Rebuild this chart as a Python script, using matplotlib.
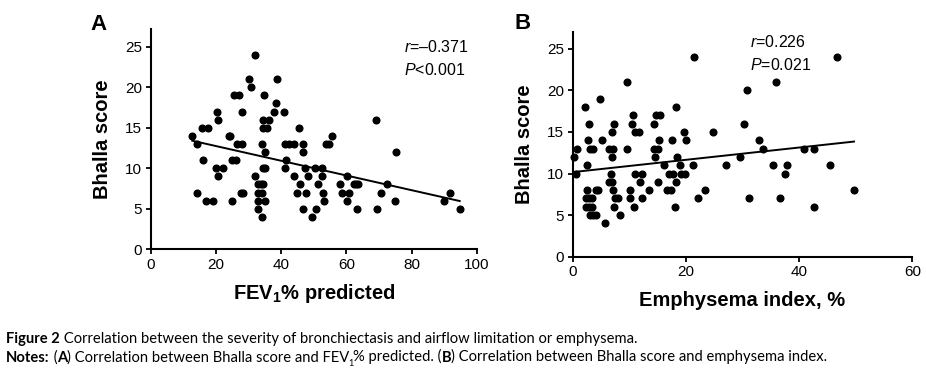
#!/usr/bin/env python3
"""Bhalla score vs FEV1 % predicted (A) and vs emphysema index (B)."""
import numpy as np
import matplotlib
matplotlib.use("Agg")
import matplotlib.pyplot as plt

plt.rcParams["font.family"] = ["Liberation Sans", "DejaVu Sans"]
plt.rcParams["mathtext.fontset"] = "custom"
plt.rcParams["mathtext.rm"] = "Liberation Sans"
plt.rcParams["mathtext.it"] = "Liberation Sans:italic"
plt.rcParams["mathtext.bf"] = "Liberation Sans:bold"

# ---- data -----------------------------------------------------------------
fev1_pct = [12.8, 14.3, 15.8, 17.6, 16.0, 14.3, 16.9, 19.0, 20.4, 20.6,
            20.1, 22.1, 20.6, 24.0, 24.5, 25.0, 26.2, 25.1, 25.7, 27.2,
            26.5, 27.9, 28.0, 27.7, 28.3, 30.1, 30.9, 31.9, 32.1, 32.9,
            33.9, 34.4, 32.9, 34.2, 32.9, 35.2, 32.9, 34.2, 34.2, 35.0,
            34.4, 35.2, 34.9, 34.6, 36.2, 34.6, 35.7, 37.9, 38.5, 38.6,
            40.9, 41.2, 42.3, 44.1, 41.5, 41.2, 43.8, 45.6, 45.8, 45.0,
            46.8, 46.8, 47.3, 48.3, 47.7, 46.6, 49.6, 50.5, 51.2, 50.8,
            52.4, 52.4, 52.8, 53.1, 53.8, 54.8, 55.7, 57.9, 58.5, 60.2,
            60.7, 60.2, 62.2, 63.0, 63.7, 63.2, 69.2, 69.3, 70.5, 72.4,
            74.9, 75.2, 89.8, 91.8, 94.7]
bhalla_a = [14, 13, 15, 15, 11, 7, 6, 6, 17, 16,
            10, 10, 9, 14, 14, 11, 11, 6, 19, 19,
            13, 13, 17, 7, 7, 21, 20, 24, 9, 8,
            8, 8, 7, 7, 6, 6, 5, 4, 13, 12,
            10, 10, 19, 16, 16, 15, 15, 17, 18, 21,
            17, 13, 13, 13, 11, 10, 9, 15, 8, 7,
            13, 12, 10, 9, 7, 5, 4, 10, 8, 5,
            10, 9, 7, 6, 13, 13, 14, 8, 7, 9,
            7, 6, 8, 8, 8, 5, 16, 5, 7, 8,
            6, 12, 6, 7, 5]

emph_index = [0.2, 0.7, 0.5, 2.1, 2.5, 2.8, 2.7, 3.1, 3.6, 2.5,
              2.4, 2.8, 3.4, 2.4, 2.9, 3.4, 3.1, 3.6, 4.2, 4.1,
              4.5, 4.9, 5.1, 5.7, 6.4, 7.2, 7.0, 7.0, 7.3, 6.7,
              6.4, 7.0, 7.2, 7.5, 8.0, 7.3, 8.3, 9.6, 9.6, 10.2,
              10.1, 10.9, 10.7, 10.5, 11.0, 11.7, 11.0, 12.3, 11.9, 12.3,
              13.4, 14.3, 14.8, 15.4, 14.4, 15.0, 14.6, 15.3, 15.0, 16.2,
              16.6, 17.3, 17.0, 17.8, 17.5, 18.1, 18.3, 18.5, 18.2, 19.0,
              19.2, 19.9, 19.7, 20.0, 21.2, 21.5, 22.2, 23.3, 24.7, 27.0,
              29.5, 30.2, 30.8, 31.2, 32.9, 33.7, 35.4, 35.9, 36.7, 37.5,
              37.8, 40.9, 42.7, 42.7, 45.5, 46.7, 49.7]
bhalla_b = [12, 13, 10, 18, 11, 16, 14, 13, 13, 8,
            7, 7, 7, 6, 6, 6, 5, 5, 5, 8,
            8, 19, 14, 4, 13, 13, 12, 15, 16, 10,
            9, 9, 8, 7, 7, 6, 5, 21, 13, 8,
            7, 6, 17, 16, 15, 15, 10, 10, 9, 7,
            8, 16, 17, 17, 13, 13, 12, 14, 9, 11,
            8, 8, 10, 10, 14, 6, 18, 12, 9, 11,
            10, 10, 15, 14, 11, 24, 7, 8, 15, 11,
            12, 16, 20, 7, 14, 13, 11, 21, 7, 10,
            11, 13, 13, 6, 11, 24, 8]

stats_a = ["$\\mathit{r}$=\u20130.371", "$\\mathit{P}$<0.001"]
stats_b = ["$\\mathit{r}$=0.226", "$\\mathit{P}$=0.021"]

caption_1 = [("Figure 2", "bold", False),
             (" Correlation between the severity of bronchiectasis and "
              "airflow limitation or emphysema.", "normal", False)]
caption_2 = [("Notes:", "bold", False), (" (", "normal", False),
             ("A", "bold", False),
             (") Correlation between Bhalla score and FEV", "normal", False),
             ("1", "normal", True), ("% predicted. (", "normal", False),
             ("B", "bold", False),
             (") Correlation between Bhalla score and emphysema index.",
              "normal", False)]

W, H = 926, 369
CAP_FONT = ["Lato", "DejaVu Sans"]


def fx(x):
    return x / W


def fy(y):
    return 1 - y / H


def scatter_panel(ax, x, y, xmax, ytop, xticks):
    x = np.asarray(x, float)
    y = np.asarray(y, float)
    ax.plot(x, y, "o", color="black", markersize=4.8, clip_on=False, zorder=3)
    slope, icpt = np.polyfit(x, y, 1)
    xs = np.array([x.min(), x.max()])
    ax.plot(xs, slope * xs + icpt, color="black", lw=1.4, zorder=2)
    ax.set_xlim(0, xmax)
    ax.set_ylim(0, ytop)
    ax.set_xticks(xticks)
    ax.set_yticks([0, 5, 10, 15, 20, 25])
    for s in ("top", "right"):
        ax.spines[s].set_visible(False)
    for s in ("left", "bottom"):
        ax.spines[s].set_linewidth(1.5)
    ax.tick_params(direction="out", length=3.8, width=1.3, labelsize=11,
                   pad=2.5, colors="black")
    ax.set_ylabel("Bhalla score", fontsize=14.5, fontweight="bold", labelpad=9)


def rich_line(ax, x, y, pieces, size):
    text, weight, _ = pieces[0]
    t = ax.text(x, y, text, transform=ax.figure.transFigure, fontsize=size,
                fontweight=weight, family=CAP_FONT, va="baseline")
    main = prev = t
    for text, weight, sub in pieces[1:]:
        if sub:
            a = ax.annotate(text, xy=(1, 0), xycoords=prev, xytext=(-1.2, -2.5),
                            textcoords="offset points", va="bottom",
                            fontsize=size * 0.62, fontweight=weight,
                            family=CAP_FONT)
        else:
            a = ax.annotate(text, xy=(1, 0), xycoords=(prev, main),
                            va="bottom", fontsize=size, fontweight=weight,
                            family=CAP_FONT)
            main = a
        prev = a


fig = plt.figure(figsize=(W / 100, H / 100), dpi=100)

# Panel A
ax_a = fig.add_axes([fx(150.5), fy(249.3), fx(477 - 150.5), (249.3 - 29) / H])
scatter_panel(ax_a, fev1_pct, bhalla_a, 100, 220.3 / 8.104,
              [0, 20, 40, 60, 80, 100])
ax_a.set_xlabel("FEV$_{\\mathbf{1}}$% predicted", fontsize=14.5,
                fontweight="bold", labelpad=7)

# Panel B
ax_b = fig.add_axes([fx(572.7), fy(256.7), fx(912.3 - 572.7), (256.7 - 31.7) / H])
scatter_panel(ax_b, emph_index, bhalla_b, 60, 225 / 8.316, [0, 20, 40, 60])
ax_b.set_xlabel("Emphysema index, %", fontsize=14.5, fontweight="bold",
                labelpad=8)

fig.text(fx(90), fy(30), "A", fontsize=16, fontweight="bold", va="baseline")
fig.text(fx(514), fy(29), "B", fontsize=16, fontweight="bold", va="baseline")

fig.text(fx(404), fy(51.7), stats_a[0], fontsize=11.5, va="baseline")
fig.text(fx(404), fy(75), stats_a[1], fontsize=11.5, va="baseline")
fig.text(fx(750), fy(47.3), stats_b[0], fontsize=11.5, va="baseline")
fig.text(fx(750), fy(70), stats_b[1], fontsize=11.5, va="baseline")

rich_line(ax_a, fx(6), fy(343.5), caption_1, 10.6)
rich_line(ax_a, fx(6), fy(361.5), caption_2, 10.6)

fig.savefig("out.png", dpi=100)
